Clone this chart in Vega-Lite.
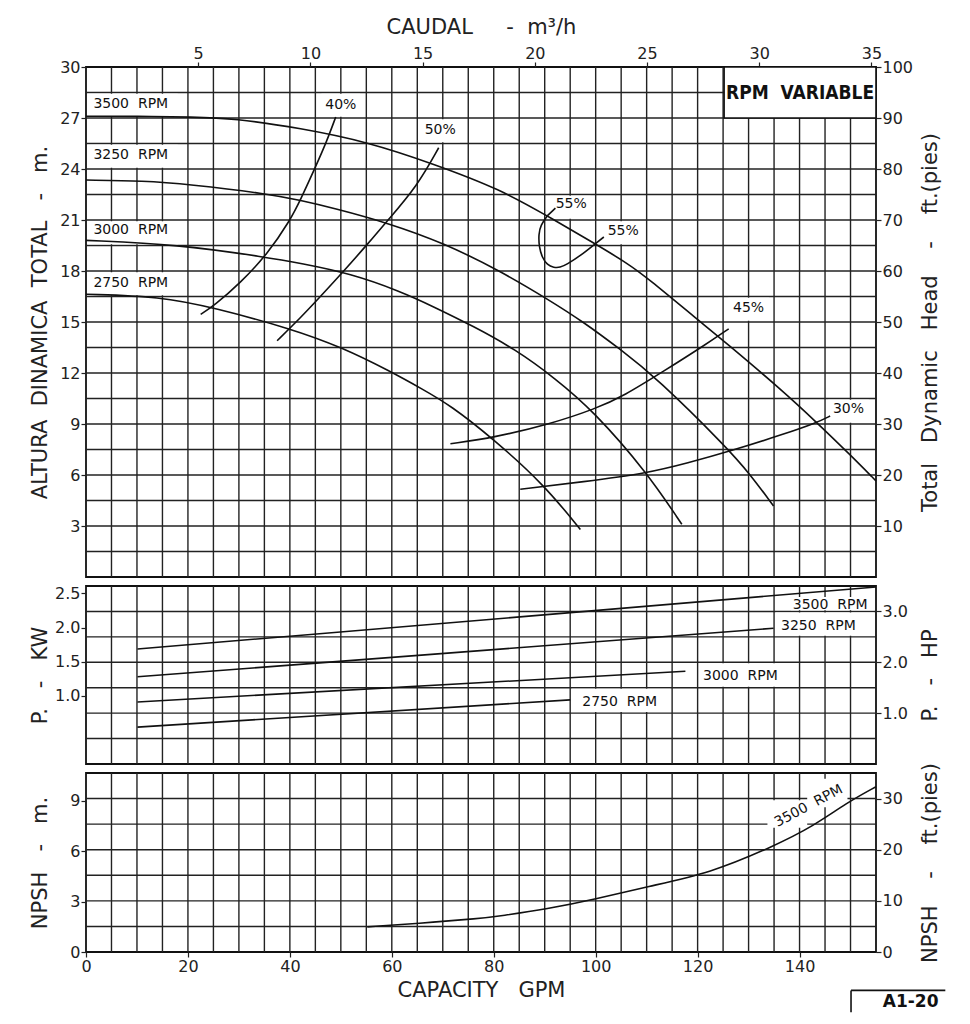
{
  "$schema": "https://vega.github.io/schema/vega-lite/v6.json",
  "background": "white",
  "autosize": {"type": "pad"},
  "padding": {"left": 28, "top": 15, "right": 5, "bottom": 5},
  "spacing": 9,
  "bounds": "flush",
  "config": {
    "font": "DejaVu Sans",
    "view": {"stroke": "#111", "strokeWidth": 1.8},
    "axis": {
      "domain": false,
      "grid": false,
      "tickColor": "#222",
      "tickSize": 5,
      "tickWidth": 1.2,
      "labelFont": "DejaVu Sans",
      "labelFontSize": 16,
      "labelColor": "#222",
      "labelPadding": 1,
      "labelFlush": false,
      "labelOverlap": false,
      "titleFont": "DejaVu Sans",
      "titleFontSize": 21,
      "titleFontWeight": "normal",
      "titleColor": "#222"
    },
    "axisLeft": {"minExtent": 30, "maxExtent": 30, "titlePadding": 6},
    "axisRight": {"minExtent": 32, "maxExtent": 32, "titlePadding": 11, "titleAngle": -90, "titleBaseline": "top"},
    "axisTop": {"titlePadding": 8},
    "axisBottom": {"titlePadding": 5},
    "line": {"color": "#111", "strokeWidth": 1.6},
    "rule": {"color": "#222", "strokeWidth": 1.4},
    "text": {"font": "DejaVu Sans", "fontSize": 14, "color": "#111"}
  },
  "datasets": {
    "vgrid": [{"gpm": 5}, {"gpm": 10}, {"gpm": 15}, {"gpm": 20}, {"gpm": 25}, {"gpm": 30}, {"gpm": 35}, {"gpm": 40}, {"gpm": 45}, {"gpm": 50}, {"gpm": 55}, {"gpm": 60}, {"gpm": 65}, {"gpm": 70}, {"gpm": 75}, {"gpm": 80}, {"gpm": 85}, {"gpm": 90}, {"gpm": 95}, {"gpm": 100}, {"gpm": 105}, {"gpm": 110}, {"gpm": 115}, {"gpm": 120}, {"gpm": 125}, {"gpm": 130}, {"gpm": 135}, {"gpm": 140}, {"gpm": 145}, {"gpm": 150}],
    "hgridHead": [{"h": 1.5}, {"h": 3}, {"h": 4.5}, {"h": 6}, {"h": 7.5}, {"h": 9}, {"h": 10.5}, {"h": 12}, {"h": 13.5}, {"h": 15}, {"h": 16.5}, {"h": 18}, {"h": 19.5}, {"h": 21}, {"h": 22.5}, {"h": 24}, {"h": 25.5}, {"h": 27}, {"h": 28.5}],
    "hgridHp": [{"hp": 0.5}, {"hp": 1.0}, {"hp": 1.5}, {"hp": 2.0}, {"hp": 2.5}, {"hp": 3.0}],
    "hgridFt": [{"ft": 5}, {"ft": 10}, {"ft": 15}, {"ft": 20}, {"ft": 25}, {"ft": 30}],
    "head": [
      {"rpm": "3500", "gpm": 0, "h": 27.1}, {"rpm": "3500", "gpm": 10, "h": 27.1}, {"rpm": "3500", "gpm": 21, "h": 27.06}, {"rpm": "3500", "gpm": 29, "h": 26.98}, {"rpm": "3500", "gpm": 42.1, "h": 26.4}, {"rpm": "3500", "gpm": 55.2, "h": 25.6}, {"rpm": "3500", "gpm": 68.2, "h": 24.3}, {"rpm": "3500", "gpm": 81.3, "h": 22.8}, {"rpm": "3500", "gpm": 90.5, "h": 21.24}, {"rpm": "3500", "gpm": 99.9, "h": 19.6}, {"rpm": "3500", "gpm": 106.5, "h": 18.4}, {"rpm": "3500", "gpm": 110.1, "h": 17.6}, {"rpm": "3500", "gpm": 119.9, "h": 15.16}, {"rpm": "3500", "gpm": 125.1, "h": 13.9}, {"rpm": "3500", "gpm": 136.9, "h": 10.9}, {"rpm": "3500", "gpm": 143.4, "h": 9.08}, {"rpm": "3500", "gpm": 149.9, "h": 7.2}, {"rpm": "3500", "gpm": 155, "h": 5.65},
      {"rpm": "3250", "gpm": 0, "h": 23.35}, {"rpm": "3250", "gpm": 11.4, "h": 23.3}, {"rpm": "3250", "gpm": 20, "h": 23.1}, {"rpm": "3250", "gpm": 35.6, "h": 22.55}, {"rpm": "3250", "gpm": 42.1, "h": 22.15}, {"rpm": "3250", "gpm": 48.6, "h": 21.7}, {"rpm": "3250", "gpm": 59.1, "h": 20.84}, {"rpm": "3250", "gpm": 70.2, "h": 19.65}, {"rpm": "3250", "gpm": 81.3, "h": 18.0}, {"rpm": "3250", "gpm": 91.1, "h": 16.25}, {"rpm": "3250", "gpm": 97.6, "h": 15.0}, {"rpm": "3250", "gpm": 104.8, "h": 13.4}, {"rpm": "3250", "gpm": 112, "h": 11.7}, {"rpm": "3250", "gpm": 125.8, "h": 7.6}, {"rpm": "3250", "gpm": 130.3, "h": 6.04}, {"rpm": "3250", "gpm": 134.9, "h": 4.18},
      {"rpm": "3000", "gpm": 0, "h": 19.8}, {"rpm": "3000", "gpm": 17.9, "h": 19.57}, {"rpm": "3000", "gpm": 35.6, "h": 18.8}, {"rpm": "3000", "gpm": 42.1, "h": 18.45}, {"rpm": "3000", "gpm": 51.9, "h": 17.85}, {"rpm": "3000", "gpm": 61.7, "h": 16.8}, {"rpm": "3000", "gpm": 68.2, "h": 15.9}, {"rpm": "3000", "gpm": 76, "h": 14.75}, {"rpm": "3000", "gpm": 84.2, "h": 13.4}, {"rpm": "3000", "gpm": 92, "h": 11.7}, {"rpm": "3000", "gpm": 99.6, "h": 9.76}, {"rpm": "3000", "gpm": 110.1, "h": 6.14}, {"rpm": "3000", "gpm": 116.9, "h": 3.1},
      {"rpm": "2750", "gpm": 0, "h": 16.63}, {"rpm": "2750", "gpm": 14.6, "h": 16.5}, {"rpm": "2750", "gpm": 25.1, "h": 15.84}, {"rpm": "2750", "gpm": 40.1, "h": 14.62}, {"rpm": "2750", "gpm": 50.3, "h": 13.5}, {"rpm": "2750", "gpm": 59.7, "h": 12.1}, {"rpm": "2750", "gpm": 66, "h": 11.05}, {"rpm": "2750", "gpm": 71.5, "h": 10.1}, {"rpm": "2750", "gpm": 80, "h": 8.1}, {"rpm": "2750", "gpm": 89.8, "h": 5.45}, {"rpm": "2750", "gpm": 97, "h": 2.8}
    ],
    "eff": [
      {"eff": "40", "i": 1, "gpm": 22.5, "h": 15.45}, {"eff": "40", "i": 2, "gpm": 25.1, "h": 15.95}, {"eff": "40", "i": 3, "gpm": 30.3, "h": 17.3}, {"eff": "40", "i": 4, "gpm": 35.6, "h": 19.0}, {"eff": "40", "i": 5, "gpm": 40.1, "h": 21.0}, {"eff": "40", "i": 6, "gpm": 42.1, "h": 22.2}, {"eff": "40", "i": 7, "gpm": 45, "h": 24.1}, {"eff": "40", "i": 8, "gpm": 47.2, "h": 25.6}, {"eff": "40", "i": 9, "gpm": 49, "h": 27.06},
      {"eff": "50", "i": 1, "gpm": 37.5, "h": 13.9}, {"eff": "50", "i": 2, "gpm": 42.1, "h": 15.25}, {"eff": "50", "i": 3, "gpm": 46, "h": 16.5}, {"eff": "50", "i": 4, "gpm": 50.6, "h": 18.0}, {"eff": "50", "i": 5, "gpm": 55.2, "h": 19.57}, {"eff": "50", "i": 6, "gpm": 59.1, "h": 20.94}, {"eff": "50", "i": 7, "gpm": 65, "h": 23.0}, {"eff": "50", "i": 8, "gpm": 69.2, "h": 25.25},
      {"eff": "55", "i": 1, "gpm": 90.5, "h": 21.24}, {"eff": "55", "i": 2, "gpm": 89.2, "h": 20.7}, {"eff": "55", "i": 3, "gpm": 88.8, "h": 20.16}, {"eff": "55", "i": 4, "gpm": 88.9, "h": 19.4}, {"eff": "55", "i": 5, "gpm": 89.5, "h": 18.8}, {"eff": "55", "i": 6, "gpm": 90.5, "h": 18.35}, {"eff": "55", "i": 7, "gpm": 91.8, "h": 18.2}, {"eff": "55", "i": 8, "gpm": 93, "h": 18.2}, {"eff": "55", "i": 9, "gpm": 94.4, "h": 18.4}, {"eff": "55", "i": 10, "gpm": 97.0, "h": 18.9}, {"eff": "55", "i": 11, "gpm": 99.9, "h": 19.6},
      {"eff": "55a", "i": 1, "gpm": 90.5, "h": 21.24}, {"eff": "55a", "i": 2, "gpm": 92.1, "h": 21.7},
      {"eff": "55b", "i": 1, "gpm": 99.9, "h": 19.6}, {"eff": "55b", "i": 2, "gpm": 101.6, "h": 20.0},
      {"eff": "45", "i": 1, "gpm": 71.5, "h": 7.84}, {"eff": "45", "i": 2, "gpm": 80, "h": 8.2}, {"eff": "45", "i": 3, "gpm": 91.1, "h": 9.0}, {"eff": "45", "i": 4, "gpm": 100, "h": 9.9}, {"eff": "45", "i": 5, "gpm": 105.5, "h": 10.65}, {"eff": "45", "i": 6, "gpm": 113.3, "h": 12.1}, {"eff": "45", "i": 7, "gpm": 121.2, "h": 13.6}, {"eff": "45", "i": 8, "gpm": 126.1, "h": 14.6},
      {"eff": "30", "i": 1, "gpm": 85.2, "h": 5.16}, {"eff": "30", "i": 2, "gpm": 97.6, "h": 5.6}, {"eff": "30", "i": 3, "gpm": 110.1, "h": 6.1}, {"eff": "30", "i": 4, "gpm": 118, "h": 6.7}, {"eff": "30", "i": 5, "gpm": 126.4, "h": 7.4}, {"eff": "30", "i": 6, "gpm": 136.9, "h": 8.4}, {"eff": "30", "i": 7, "gpm": 143.4, "h": 9.08}, {"eff": "30", "i": 8, "gpm": 146, "h": 9.47}
    ],
    "headBoxes": [
      {"x1": 0.3, "x2": 18, "y1": 27.08, "y2": 28.42}, {"x1": 0.3, "x2": 18, "y1": 24.08, "y2": 25.42}, {"x1": 0.3, "x2": 18, "y1": 19.58, "y2": 20.92}, {"x1": 0.3, "x2": 18, "y1": 16.58, "y2": 17.92},
      {"x1": 46.2, "x2": 53.8, "y1": 27.08, "y2": 28.42}, {"x1": 65.6, "x2": 73.4, "y1": 25.58, "y2": 26.92}, {"x1": 91.0, "x2": 99.0, "y1": 21.08, "y2": 22.42}, {"x1": 101.4, "x2": 109.4, "y1": 19.58, "y2": 20.92}, {"x1": 126, "x2": 134, "y1": 15.08, "y2": 16.42}, {"x1": 145.6, "x2": 153.6, "y1": 9.08, "y2": 10.42}
    ],
    "rpmLabels": [
      {"t": "3500\u00a0\u00a0RPM", "gpm": 1.45, "h": 27.8}, {"t": "3250\u00a0\u00a0RPM", "gpm": 1.45, "h": 24.8}, {"t": "3000\u00a0\u00a0RPM", "gpm": 1.45, "h": 20.4}, {"t": "2750\u00a0\u00a0RPM", "gpm": 1.45, "h": 17.3}
    ],
    "effLabels": [
      {"t": "40%", "gpm": 50, "h": 27.76}, {"t": "50%", "gpm": 69.5, "h": 26.27}, {"t": "55%", "gpm": 95.2, "h": 21.96}, {"t": "55%", "gpm": 105.4, "h": 20.35}, {"t": "45%", "gpm": 130, "h": 15.84}, {"t": "30%", "gpm": 149.6, "h": 9.86}
    ],
    "variable": [{"t": "RPM\u00a0\u00a0VARIABLE", "x1": 125.2, "x2": 155, "y1": 27, "y2": 30, "gpm": 140.1, "h": 28.45}],
    "power": [
      {"rpm": "3500", "gpm": 10.1, "kw": 1.686}, {"rpm": "3500", "gpm": 155, "kw": 2.596},
      {"rpm": "3250", "gpm": 10.1, "kw": 1.279}, {"rpm": "3250", "gpm": 134.9, "kw": 1.99},
      {"rpm": "3000", "gpm": 10.1, "kw": 0.91}, {"rpm": "3000", "gpm": 117.6, "kw": 1.36},
      {"rpm": "2750", "gpm": 10.1, "kw": 0.541}, {"rpm": "2750", "gpm": 95, "kw": 0.94}
    ],
    "powerBoxes": [
      {"x1": 138.3, "x2": 154.7, "y1": 2.255, "y2": 2.45}, {"x1": 135.3, "x2": 154.7, "y1": 1.88, "y2": 2.22}, {"x1": 120.3, "x2": 139.7, "y1": 1.133, "y2": 1.476}, {"x1": 95.3, "x2": 114.7, "y1": 0.761, "y2": 1.104}
    ],
    "powerLabels": [
      {"t": "3500\u00a0\u00a0RPM", "gpm": 146.0, "kw": 2.33}, {"t": "3250\u00a0\u00a0RPM", "gpm": 143.7, "kw": 2.02}, {"t": "3000\u00a0\u00a0RPM", "gpm": 128.4, "kw": 1.283}, {"t": "2750\u00a0\u00a0RPM", "gpm": 104.7, "kw": 0.91}
    ],
    "npsh": [
      {"gpm": 55.2, "m": 1.5}, {"gpm": 65, "m": 1.7}, {"gpm": 77.4, "m": 2.0}, {"gpm": 81.3, "m": 2.15}, {"gpm": 90.5, "m": 2.56}, {"gpm": 99.9, "m": 3.14}, {"gpm": 110.1, "m": 3.9}, {"gpm": 122.5, "m": 4.7}, {"gpm": 134.9, "m": 6.3}, {"gpm": 142.7, "m": 7.5}, {"gpm": 149.3, "m": 8.9}, {"gpm": 155, "m": 9.85}
    ],
    "npshBoxes": [
      {"x1": 133.7, "x2": 141.5, "y1": 7.41, "y2": 9.05}, {"x1": 141.5, "x2": 149.4, "y1": 8.63, "y2": 10.33}
    ],
    "npshLabel": [{"t": "3500\u00a0\u00a0RPM", "gpm": 141.8, "m": 8.7}],
    "stampLines": [
      {"x1": 150.1, "x2": 150.1, "y1": -2.29, "y2": -3.59}, {"x1": 150.1, "x2": 168.6, "y1": -2.29, "y2": -2.29}
    ],
    "stamp": [{"t": "A1-20", "gpm": 161.8, "m": -2.98}]
  },
  "vconcat": [
    {
      "width": 790,
      "height": 510,
      "layer": [
        {
          "layer": [
            {
              "data": {"name": "vgrid"},
              "mark": {"type": "rule"},
              "encoding": {
                "x": {"field": "gpm", "type": "quantitative", "scale": {"domain": [0, 155], "nice": false}, "axis": null}
              }
            },
            {
              "data": {"name": "hgridHead"},
              "mark": {"type": "rule"},
              "encoding": {
                "y": {"field": "h", "type": "quantitative", "scale": {"domain": [0, 30], "nice": false},
                      "axis": {"values": [3,6,9,12,15,18,21,24,27,30], "title": "ALTURA\u00a0\u00a0DINAMICA\u00a0\u00a0TOTAL\u00a0\u00a0\u00a0-\u00a0\u00a0\u00a0m."}}
              }
            },
            {
              "data": {"name": "headBoxes"},
              "mark": {"type": "rect", "fill": "white"},
              "encoding": {
                "x": {"field": "x1", "type": "quantitative", "axis": null},
                "x2": {"field": "x2"},
                "y": {"field": "y1", "type": "quantitative"},
                "y2": {"field": "y2"}
              }
            },
            {
              "data": {"name": "head"},
              "mark": {"type": "line", "interpolate": "basis"},
              "encoding": {
                "x": {"field": "gpm", "type": "quantitative", "axis": null},
                "y": {"field": "h", "type": "quantitative"},
                "detail": {"field": "rpm"}
              }
            },
            {
              "data": {"name": "eff"},
              "mark": {"type": "line", "interpolate": "basis"},
              "encoding": {
                "x": {"field": "gpm", "type": "quantitative", "axis": null},
                "y": {"field": "h", "type": "quantitative"},
                "detail": {"field": "eff"},
                "order": {"field": "i", "type": "quantitative"}
              }
            },
            {
              "data": {"name": "rpmLabels"},
              "mark": {"type": "text", "align": "left", "baseline": "middle", "fontSize": 14},
              "encoding": {
                "x": {"field": "gpm", "type": "quantitative", "axis": null},
                "y": {"field": "h", "type": "quantitative"},
                "text": {"field": "t"}
              }
            },
            {
              "data": {"name": "effLabels"},
              "mark": {"type": "text", "align": "center", "baseline": "middle", "fontSize": 14},
              "encoding": {
                "x": {"field": "gpm", "type": "quantitative", "axis": null},
                "y": {"field": "h", "type": "quantitative"},
                "text": {"field": "t"}
              }
            },
            {
              "data": {"name": "variable"},
              "mark": {"type": "rect", "fill": "white", "stroke": "#111", "strokeWidth": 1.6},
              "encoding": {
                "x": {"field": "x1", "type": "quantitative", "axis": null},
                "x2": {"field": "x2"},
                "y": {"field": "y1", "type": "quantitative"},
                "y2": {"field": "y2"}
              }
            },
            {
              "data": {"name": "variable"},
              "mark": {"type": "text", "align": "center", "baseline": "middle", "fontSize": 19, "fontWeight": "bold", "font": "'DejaVu Sans Condensed', 'Liberation Sans Narrow', 'DejaVu Sans'"},
              "encoding": {
                "x": {"field": "gpm", "type": "quantitative", "axis": null},
                "y": {"field": "h", "type": "quantitative"},
                "text": {"field": "t"}
              }
            }
          ]
        },
        {
          "data": {"values": [{"ft": 0}, {"ft": 100}]},
          "mark": {"type": "point", "opacity": 0},
          "encoding": {
            "y": {"field": "ft", "type": "quantitative", "scale": {"domain": [0, 100], "nice": false},
                  "axis": {"orient": "right", "values": [10,20,30,40,50,60,70,80,90,100], "title": "Total\u00a0\u00a0\u00a0Dynamic\u00a0\u00a0\u00a0Head\u00a0\u00a0\u00a0\u00a0-\u00a0\u00a0\u00a0\u00a0ft.(pies)"}}
          }
        },
        {
          "data": {"values": [{"m3h": 0}, {"m3h": 35.204}]},
          "mark": {"type": "point", "opacity": 0},
          "encoding": {
            "x": {"field": "m3h", "type": "quantitative", "scale": {"domain": [0, 35.204], "nice": false},
                  "axis": {"orient": "top", "values": [5,10,15,20,25,30,35], "title": "CAUDAL\u00a0\u00a0\u00a0\u00a0\u00a0-\u00a0\u00a0m³/h"}}
          }
        }
      ],
      "resolve": {"scale": {"x": "independent", "y": "independent"}}
    },
    {
      "width": 790,
      "height": 178,
      "layer": [
        {
          "data": {"name": "hgridHp"},
          "mark": {"type": "rule"},
          "encoding": {
            "y": {"field": "hp", "type": "quantitative", "scale": {"domain": [0, 3.5], "nice": false},
                  "axis": {"orient": "right", "values": [1.0, 2.0, 3.0], "format": ".1f", "title": "P.\u00a0\u00a0\u00a0-\u00a0\u00a0\u00a0HP"}}
          }
        },
        {
          "layer": [
            {
              "data": {"name": "vgrid"},
              "mark": {"type": "rule"},
              "encoding": {
                "x": {"field": "gpm", "type": "quantitative", "scale": {"domain": [0, 155], "nice": false}, "axis": null}
              }
            },
            {
              "data": {"name": "powerBoxes"},
              "mark": {"type": "rect", "fill": "white"},
              "encoding": {
                "x": {"field": "x1", "type": "quantitative", "axis": null},
                "x2": {"field": "x2"},
                "y": {"field": "y1", "type": "quantitative", "scale": {"domain": [0, 2.60995], "nice": false},
                      "axis": {"orient": "left", "values": [1.0, 1.5, 2.0, 2.5], "format": ".1f", "title": "P.\u00a0\u00a0\u00a0-\u00a0\u00a0\u00a0KW"}},
                "y2": {"field": "y2"}
              }
            },
            {
              "data": {"name": "power"},
              "mark": {"type": "line"},
              "encoding": {
                "x": {"field": "gpm", "type": "quantitative", "axis": null},
                "y": {"field": "kw", "type": "quantitative"},
                "detail": {"field": "rpm"}
              }
            },
            {
              "data": {"name": "powerLabels"},
              "mark": {"type": "text", "align": "center", "baseline": "middle", "fontSize": 14},
              "encoding": {
                "x": {"field": "gpm", "type": "quantitative", "axis": null},
                "y": {"field": "kw", "type": "quantitative"},
                "text": {"field": "t"}
              }
            }
          ]
        }
      ],
      "resolve": {"scale": {"y": "independent"}}
    },
    {
      "width": 790,
      "height": 179,
      "layer": [
        {
          "data": {"name": "hgridFt"},
          "mark": {"type": "rule"},
          "encoding": {
            "y": {"field": "ft", "type": "quantitative", "scale": {"domain": [0, 35], "nice": false},
                  "axis": {"orient": "right", "values": [0, 10, 20, 30], "title": "NPSH\u00a0\u00a0\u00a0\u00a0-\u00a0\u00a0\u00a0\u00a0ft.(pies)"}}
          }
        },
        {
          "layer": [
            {
              "data": {"name": "vgrid"},
              "mark": {"type": "rule"},
              "encoding": {
                "x": {"field": "gpm", "type": "quantitative", "scale": {"domain": [0, 155], "nice": false},
                      "axis": {"orient": "bottom", "values": [0, 20, 40, 60, 80, 100, 120, 140], "title": "CAPACITY\u00a0\u00a0\u00a0GPM"}}
              }
            },
            {
              "data": {"name": "npshBoxes"},
              "mark": {"type": "rect", "fill": "white"},
              "encoding": {
                "x": {"field": "x1", "type": "quantitative"},
                "x2": {"field": "x2"},
                "y": {"field": "y1", "type": "quantitative", "scale": {"domain": [0, 10.668], "nice": false},
                      "axis": {"orient": "left", "values": [0, 3, 6, 9], "title": "NPSH\u00a0\u00a0\u00a0-\u00a0\u00a0\u00a0m."}},
                "y2": {"field": "y2"}
              }
            },
            {
              "data": {"name": "npsh"},
              "mark": {"type": "line", "interpolate": "basis"},
              "encoding": {
                "x": {"field": "gpm", "type": "quantitative"},
                "y": {"field": "m", "type": "quantitative"}
              }
            },
            {
              "data": {"name": "npshLabel"},
              "mark": {"type": "text", "align": "center", "baseline": "middle", "fontSize": 14, "angle": -28},
              "encoding": {
                "x": {"field": "gpm", "type": "quantitative"},
                "y": {"field": "m", "type": "quantitative"},
                "text": {"field": "t"}
              }
            },
            {
              "data": {"name": "stampLines"},
              "mark": {"type": "rule", "color": "#111", "strokeWidth": 1.6},
              "encoding": {
                "x": {"field": "x1", "type": "quantitative"},
                "x2": {"field": "x2"},
                "y": {"field": "y1", "type": "quantitative"},
                "y2": {"field": "y2"}
              }
            },
            {
              "data": {"name": "stamp"},
              "mark": {"type": "text", "align": "center", "baseline": "middle", "fontSize": 17, "fontWeight": "bold"},
              "encoding": {
                "x": {"field": "gpm", "type": "quantitative"},
                "y": {"field": "m", "type": "quantitative"},
                "text": {"field": "t"}
              }
            }
          ]
        }
      ],
      "resolve": {"scale": {"y": "independent"}}
    }
  ]
}
